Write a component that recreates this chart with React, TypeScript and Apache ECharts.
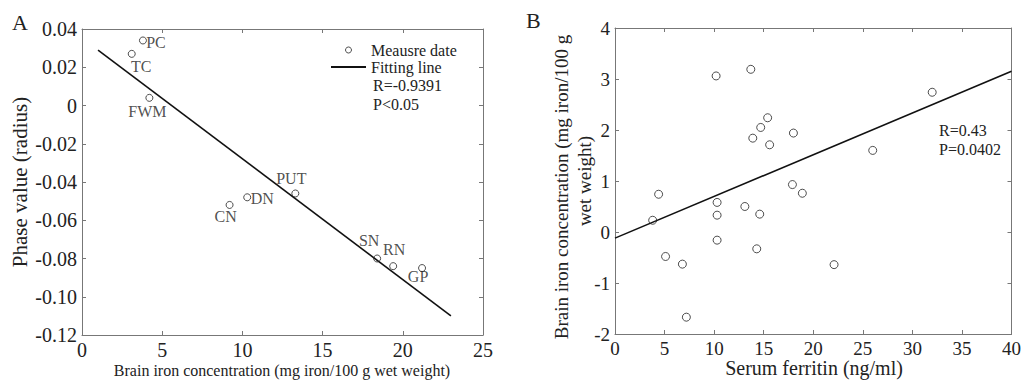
import React, { useEffect, useRef } from "react";
import * as echarts from "echarts";

// Panel A data
const regionNames = ["PC", "TC", "FWM", "PUT", "DN", "CN", "SN", "RN", "GP"];
const ironConc = [3.8, 3.1, 4.2, 13.3, 10.3, 9.2, 18.4, 19.4, 21.2];
const phaseValue = [0.034, 0.027, 0.004, -0.046, -0.048, -0.052, -0.080, -0.084, -0.085];
const fitA = [[1, 0.029], [23, -0.110]];

// Panel B data
const ferritin = [10.2, 13.7, 15.4, 14.7, 13.9, 15.6, 18.0, 26.0, 32.0, 17.9, 18.9, 4.4, 10.3, 13.1, 10.3, 14.6, 3.8, 10.3, 14.3, 5.1, 6.8, 22.1, 7.2];
const brainIron = [3.06, 3.19, 2.24, 2.05, 1.84, 1.71, 1.94, 1.60, 2.74, 0.93, 0.76, 0.74, 0.58, 0.50, 0.33, 0.35, 0.23, -0.16, -0.33, -0.48, -0.63, -0.64, -1.67];
const fitB = [[0, -0.12], [40, 3.15]];

// label offsets (style, not data)
const labelOffsets: Record<string, [number, number]> = {
  PC: [13, 2],
  TC: [9.5, 13],
  FWM: [-2, 14],
  PUT: [-4, -15],
  DN: [15, 1],
  CN: [-4, 12],
  SN: [-8, -18],
  RN: [1, -17],
  GP: [-4, 8],
};

const FONT = "'Liberation Serif', 'Times New Roman', serif";
const TEXT = "#222";
const AXIS = "#777";

function makeAxis(kind: "x" | "y", gridIndex: number, min: number, max: number, interval: number, mirror: boolean, fontSize: number, fmt?: (v: number) => string) {
  return {
    type: "value",
    gridIndex,
    min,
    max,
    interval,
    position: kind === "x" ? (mirror ? "top" : "bottom") : mirror ? "right" : "left",
    axisLine: { show: true, onZero: false, lineStyle: { color: AXIS, width: 1 } },
    axisTick: { show: true, inside: true, length: 4, lineStyle: { color: AXIS } },
    splitLine: { show: false },
    axisLabel: {
      show: !mirror,
      color: TEXT,
      fontFamily: FONT,
      fontSize,
      margin: 5,
      formatter: fmt,
    },
  };
}

const hollow = { color: "rgba(0,0,0,0)", borderColor: "#222", borderWidth: 1 };

export default function App() {
  const ref = useRef<HTMLDivElement>(null);
  useEffect(() => {
    if (!ref.current) return;
    const chart = echarts.init(ref.current, undefined, { renderer: "svg" });
    const fmtA = (v: number) => (Math.abs(v) < 1e-9 ? "0" : v.toFixed(2));
    const fmtInt = (v: number) => String(Math.round(v));
    const option: any = {
      animation: false,
      backgroundColor: "#fff",
      textStyle: { fontFamily: FONT },
      grid: [
        { left: 82, top: 29, width: 401, height: 306 },
        { left: 615, top: 28, width: 399, height: 306 },
      ],
      xAxis: [
        makeAxis("x", 0, 0, 25, 5, false, 20, fmtInt),
        makeAxis("x", 0, 0, 25, 5, true, 20),
        makeAxis("x", 1, 0, 40, 5, false, 19, fmtInt),
        makeAxis("x", 1, 0, 40, 5, true, 19),
      ],
      yAxis: [
        makeAxis("y", 0, -0.12, 0.04, 0.02, false, 20, fmtA),
        makeAxis("y", 0, -0.12, 0.04, 0.02, true, 20),
        makeAxis("y", 1, -2, 4, 1, false, 19, fmtInt),
        makeAxis("y", 1, -2, 4, 1, true, 19),
      ],
      legend: {
        orient: "vertical",
        left: 330,
        top: 41.5,
        padding: 0,
        itemWidth: 35,
        itemHeight: 6,
        itemGap: 0,
        textStyle: { fontFamily: FONT, fontSize: 16, color: TEXT, lineHeight: 17 },
        data: [
          { name: "Meausre date", itemStyle: hollow },
          { name: "Fitting line", itemStyle: { opacity: 0 } },
        ],
      },
      series: [
        {
          name: "Meausre date",
          type: "scatter",
          xAxisIndex: 0,
          yAxisIndex: 0,
          symbol: "circle",
          symbolSize: 7,
          itemStyle: hollow,
          data: ironConc.map((x, i) => ({
            value: [x, phaseValue[i]],
            label: {
              show: true,
              formatter: regionNames[i],
              position: "inside",
              offset: labelOffsets[regionNames[i]],
              fontFamily: FONT,
              fontSize: 16,
              color: TEXT,
            },
          })),
          z: 3,
        },
        {
          name: "Fitting line",
          type: "line",
          xAxisIndex: 0,
          yAxisIndex: 0,
          showSymbol: false,
          symbol: "none",
          lineStyle: { color: "#111", width: 1.6 },
          itemStyle: { color: "#111" },
          data: fitA,
        },
        {
          name: "B points",
          type: "scatter",
          xAxisIndex: 2,
          yAxisIndex: 2,
          symbol: "circle",
          symbolSize: 8,
          itemStyle: hollow,
          data: ferritin.map((x, i) => [x, brainIron[i]]),
          z: 3,
        },
        {
          name: "B fit",
          type: "line",
          xAxisIndex: 2,
          yAxisIndex: 2,
          showSymbol: false,
          symbol: "none",
          lineStyle: { color: "#111", width: 1.6 },
          data: fitB,
        },
      ],
      graphic: [
        { type: "text", left: 12, top: 11, style: { text: "A", font: `22px ${FONT}`, fill: TEXT } },
        { type: "text", left: 526, top: 9, style: { text: "B", font: `22px ${FONT}`, fill: TEXT } },
        { type: "text", x: 373, y: 85, style: { text: "R=-0.9391", font: `16px ${FONT}`, fill: TEXT, textVerticalAlign: "middle" } },
        { type: "text", x: 373, y: 104, style: { text: "P<0.05", font: `16px ${FONT}`, fill: TEXT, textVerticalAlign: "middle" } },
        { type: "text", x: 939, y: 130, style: { text: "R=0.43", font: `16px ${FONT}`, fill: TEXT, textVerticalAlign: "middle" } },
        { type: "text", x: 939, y: 149, style: { text: "P=0.0402", font: `16px ${FONT}`, fill: TEXT, textVerticalAlign: "middle" } },
        {
          type: "text", x: 20, y: 182, rotation: Math.PI / 2,
          style: { text: "Phase value (radius)", font: `21px ${FONT}`, fill: TEXT, textAlign: "center", textVerticalAlign: "middle" },
        },
        {
          type: "text", x: 282, y: 370,
          style: { text: "Brain iron concentration (mg iron/100 g wet weight)", font: `16px ${FONT}`, fill: TEXT, textAlign: "center", textVerticalAlign: "middle" },
        },
        {
          type: "text", x: 561, y: 187, rotation: Math.PI / 2,
          style: { text: "Brain iron concentration (mg iron/100 g", font: `19px ${FONT}`, fill: TEXT, textAlign: "center", textVerticalAlign: "middle" },
        },
        {
          type: "text", x: 584, y: 181, rotation: Math.PI / 2,
          style: { text: "wet weight)", font: `19px ${FONT}`, fill: TEXT, textAlign: "center", textVerticalAlign: "middle" },
        },
        {
          type: "text", x: 814, y: 368,
          style: { text: "Serum ferritin (ng/ml)", font: `20px ${FONT}`, fill: TEXT, textAlign: "center", textVerticalAlign: "middle" },
        },
      ],
    };
    chart.setOption(option);
    return () => chart.dispose();
  }, []);
  return <div ref={ref} style={{ position: "absolute", left: 0, top: 0, width: 1024, height: 380 }} />;
}
